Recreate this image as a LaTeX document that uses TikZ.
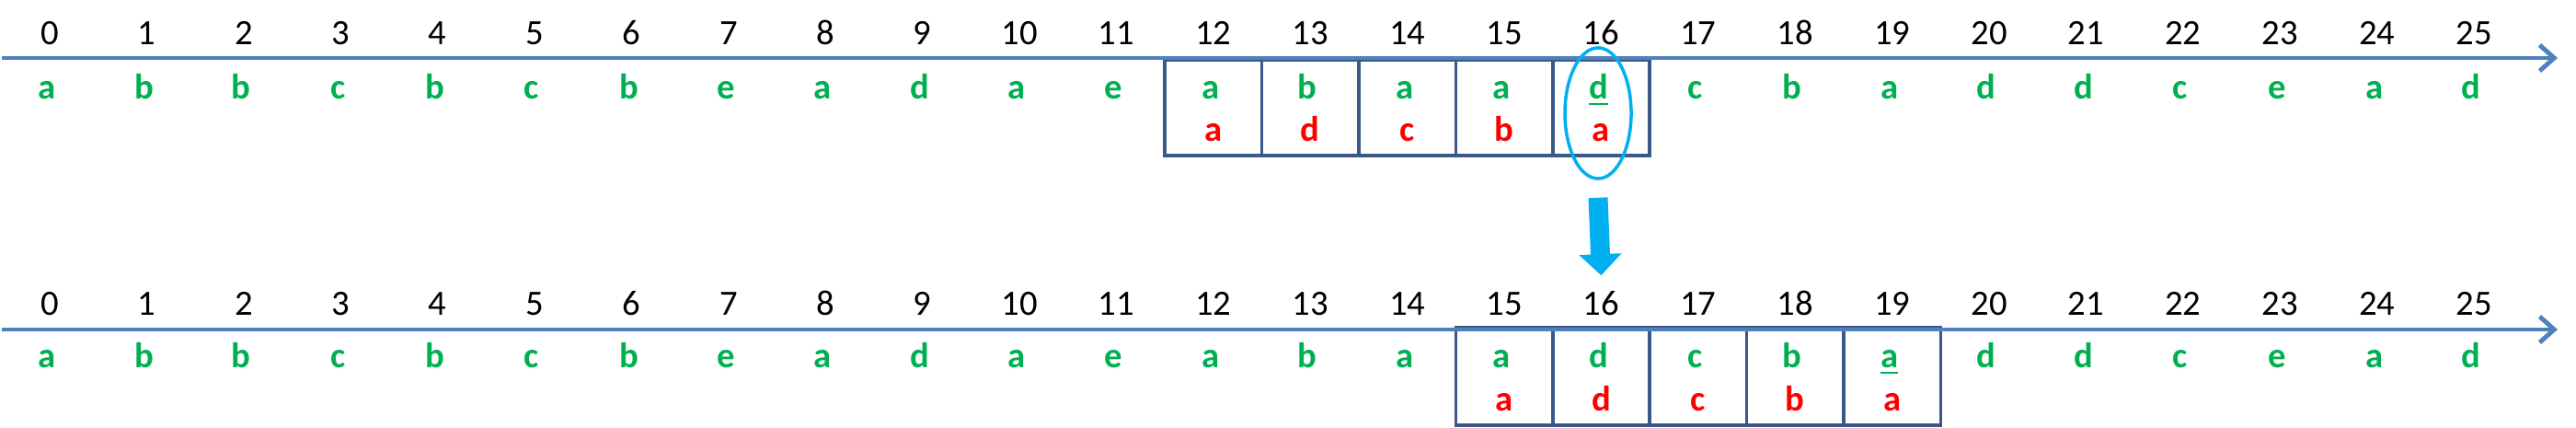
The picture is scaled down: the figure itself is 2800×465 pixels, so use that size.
\documentclass[tikz,border=0pt]{standalone}
\usepackage{fontspec}
\setmainfont{Carlito}
\usetikzlibrary{arrows.meta,shapes.geometric}
\definecolor{axisblue}{RGB}{79,129,189}
\definecolor{boxblue}{RGB}{59,89,136}
\definecolor{lgreen}{RGB}{0,176,80}
\definecolor{lred}{RGB}{255,0,0}
\definecolor{cyanA}{RGB}{0,176,240}
\begin{document}
\begin{tikzpicture}[x=0.01cm,y=-0.01cm,
  num/.style={font=\fontsize{11}{13}\selectfont, text=black, inner sep=0pt, anchor=base},
  glet/.style={font=\fontsize{11}{13}\selectfont\bfseries, text=lgreen, inner sep=0pt, anchor=base},
  rlet/.style={font=\fontsize{11}{13}\selectfont\bfseries, text=lred, inner sep=0pt, anchor=base},
  cellbox/.style={draw=boxblue, line width=1pt, minimum width=1.054cm, inner sep=0pt},
  axisline/.style={draw=axisblue, line width=1.4pt, -{Straight Barb[length=4.5pt,width=8pt]}},
  ring/.style={draw=cyanA, line width=1pt, ellipse, minimum width=0.72cm, minimum height=1.42cm, inner sep=0pt},
  bigarrow/.style={draw=cyanA, fill=cyanA, line width=0.21cm, -{Triangle[length=0.23cm,width=0.45cm]}}
]
\useasboundingbox (0,0) rectangle (2800,465);
% boxes (drawn first so the axis covers their top edge)
\foreach \i in {12,...,16} {
  \pgfmathsetmacro\xx{54+105.4*\i}
  \node[cellbox, minimum height=1.04cm] (tc\i) at (\xx,117) {};
}
\foreach \i in {15,...,19} {
  \pgfmathsetmacro\xx{54+105.4*\i}
  \node[cellbox, minimum height=1.06cm] (bc\i) at (\xx,409) {};
}
% axes
\coordinate (ta0) at (2,63);
\coordinate (ta1) at (2780,63);
\coordinate (ba0) at (2,358);
\coordinate (ba1) at (2780,358);
\draw[axisline] (ta0) -- (ta1);
\draw[axisline] (ba0) -- (ba1);
% numbers
\foreach \i in {0,...,25} {
  \pgfmathsetmacro\xx{54+105.4*\i}
  \node[num] (tn\i) at (\xx,49) {\i};
  \node[num] (bn\i) at (\xx,343) {\i};
}
% top row letters
\foreach \i/\l in {0/a,1/b,2/b,3/c,4/b,5/c,6/b,7/e,8/a,9/d,10/a,11/e,12/a,13/b,14/a,15/a,16/{\underline{d}},17/c,18/b,19/a,20/d,21/d,22/c,23/e,24/a,25/d} {
  \pgfmathsetmacro\xx{51+105.4*\i}
  \node[glet] (tg\i) at (\xx,108) {\l};
}
\foreach \i/\l in {12/a,13/d,14/c,15/b,16/a} {
  \pgfmathsetmacro\xx{54+105.4*\i}
  \node[rlet] (tr\i) at (\xx,154) {\l};
}
% bottom row letters
\foreach \i/\l in {0/a,1/b,2/b,3/c,4/b,5/c,6/b,7/e,8/a,9/d,10/a,11/e,12/a,13/b,14/a,15/a,16/d,17/c,18/b,19/{\underline{a}},20/d,21/d,22/c,23/e,24/a,25/d} {
  \pgfmathsetmacro\xx{51+105.4*\i}
  \node[glet] (bg\i) at (\xx,400) {\l};
}
\foreach \i/\l in {15/a,16/d,17/c,18/b,19/a} {
  \pgfmathsetmacro\xx{54+105.4*\i}
  \node[rlet] (br\i) at (\xx,447) {\l};
}
% highlight ellipse and arrow
\node[ring] (ell) at (1737,123) {};
\draw[bigarrow] ([yshift=-0.19cm]ell.south) -- ([yshift=0.17cm]bn16.north);
\end{tikzpicture}
\end{document}
